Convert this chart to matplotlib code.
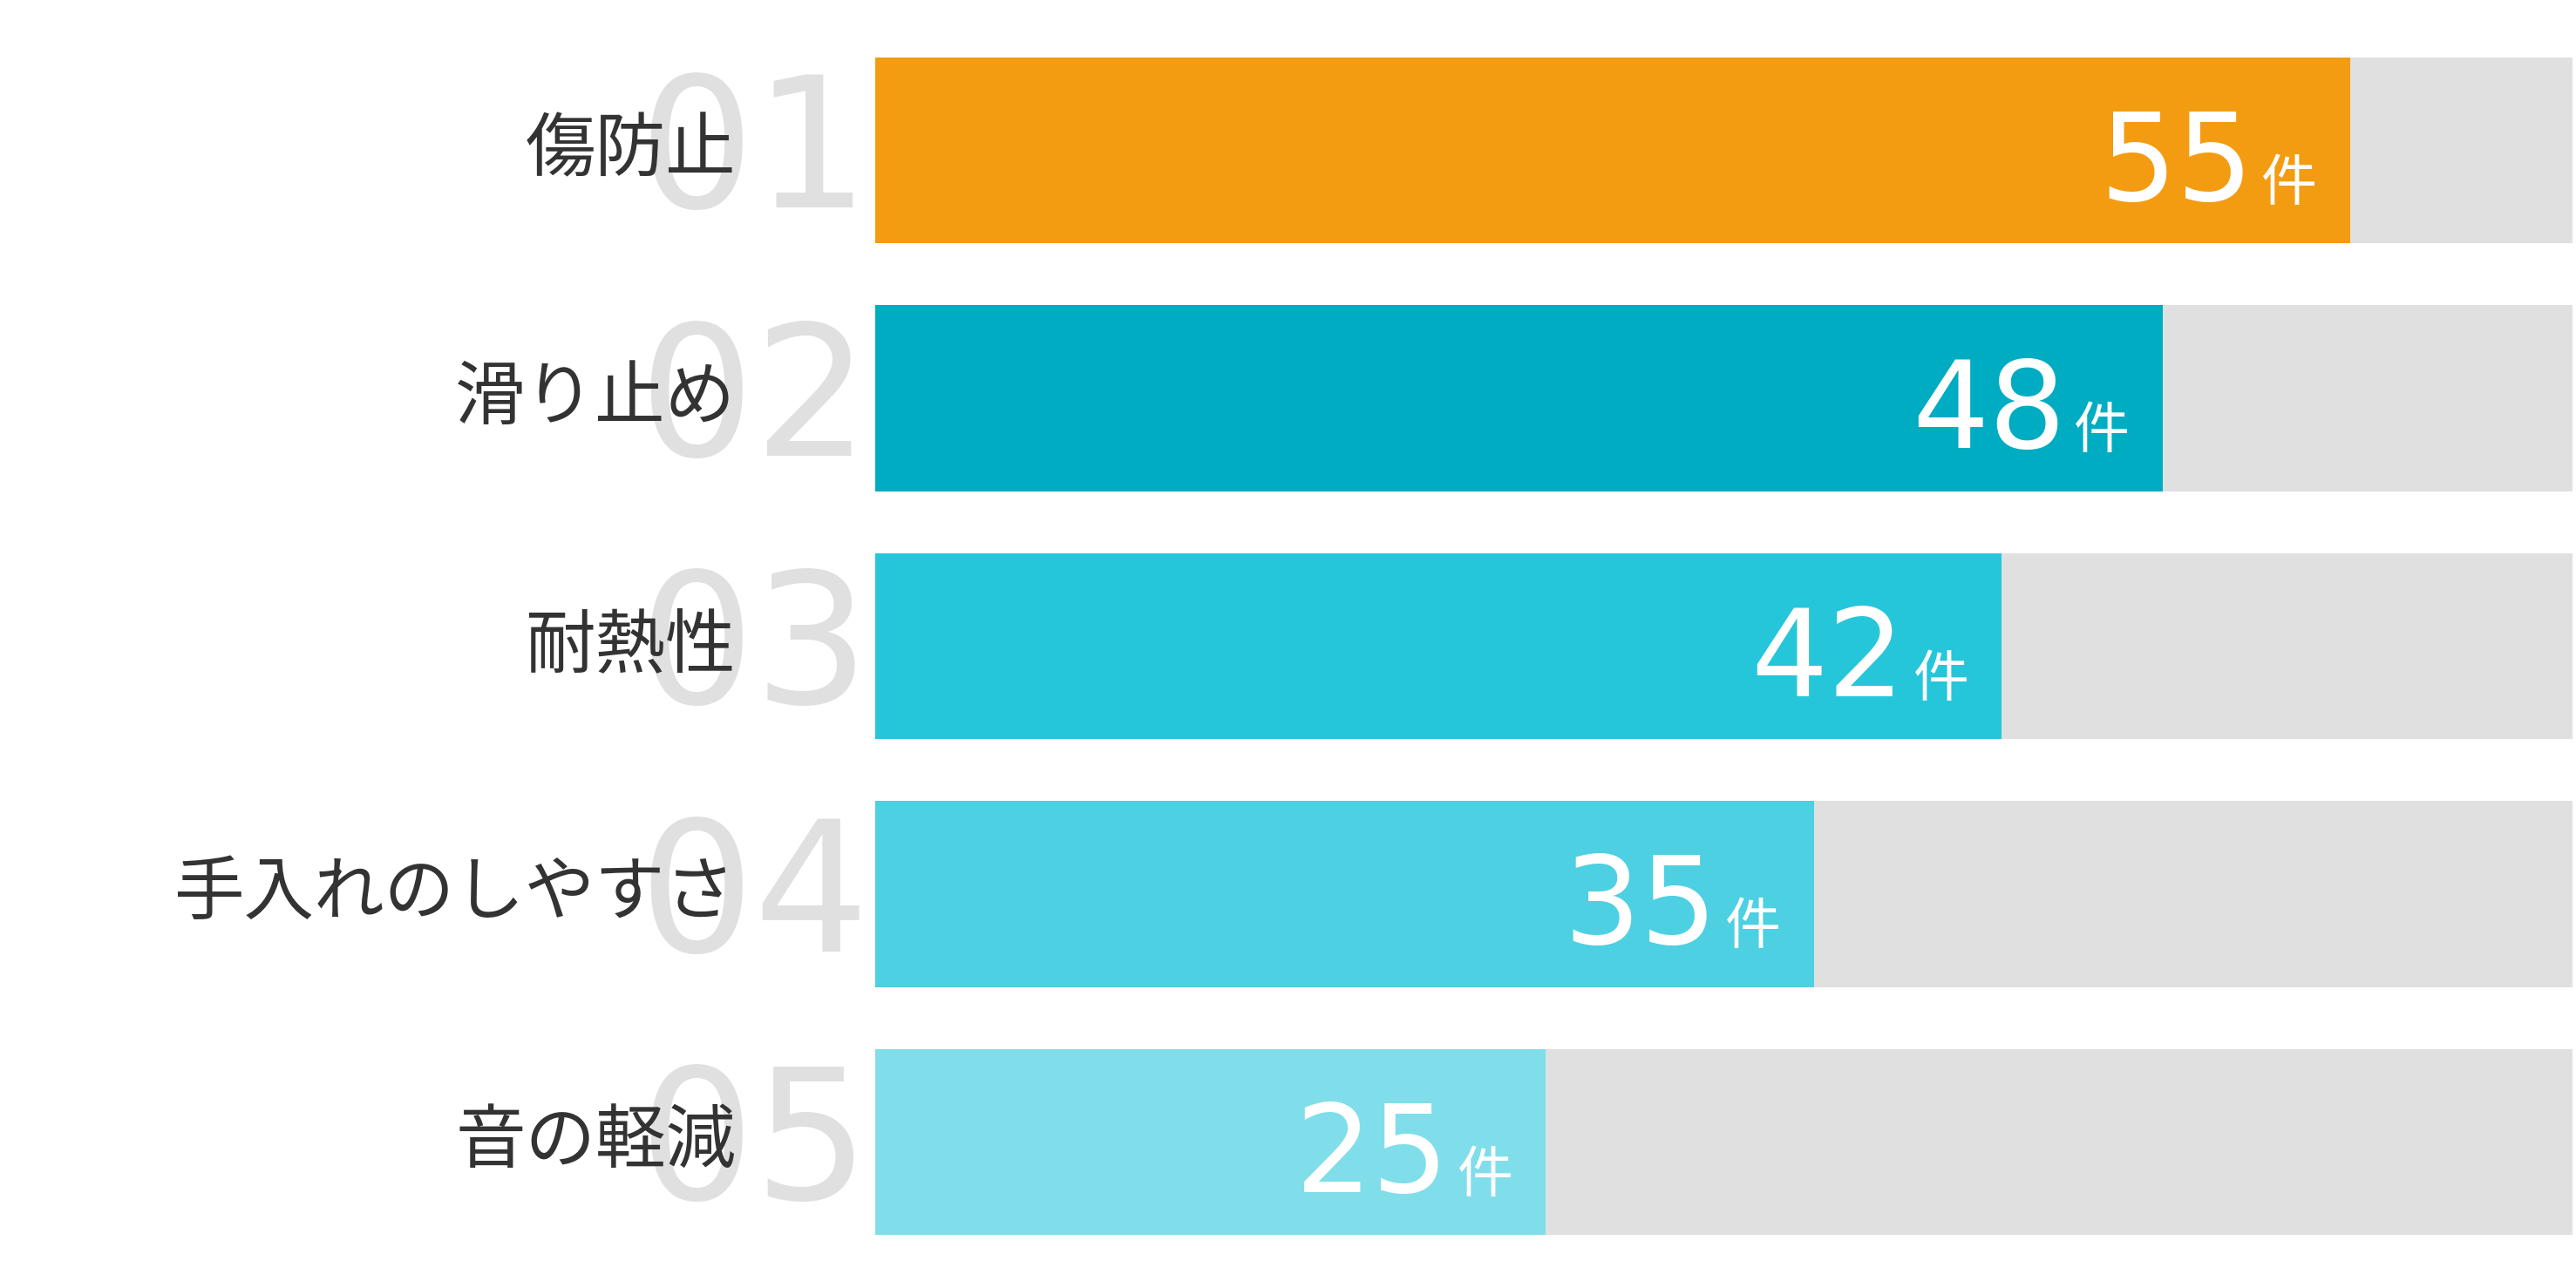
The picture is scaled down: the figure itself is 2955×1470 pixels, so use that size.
import matplotlib.pyplot as plt

plt.rcParams['font.family'] = ['Noto Sans CJK JP', 'DejaVu Sans']

labels = ["傷防止", "滑り止め", "耐熱性", "手入れのしやすさ", "音の軽減"]
ranks = ["01", "02", "03", "04", "05"]
values = [55, 48, 42, 35, 25]
track_max = 63.3
colors = ["#F39C12", "#00ACC1", "#26C6DA", "#4DD0E1", "#80DEEA"]

fig = plt.figure(figsize=(29.55, 14.7), dpi=100)
ax = fig.add_axes([528 / 1554, 9 / 773, 1024 / 1554, 748 / 773])
ax.set_xlim(0, track_max)
ax.set_ylim(4.5, -0.5)
ax.axis("off")

num_font = ["DejaVu Sans"]
for i, (lab, rk, v, c) in enumerate(zip(labels, ranks, values, colors)):
    ax.barh(i, track_max, height=0.75, color="#E0E0E0", zorder=1)
    ax.barh(i, v, height=0.75, color=c, zorder=2)
    ax.text(-0.2, i + 0.23, rk, ha="right", va="baseline", fontsize=150,
            color="#E0E0E0", family=num_font, zorder=0, clip_on=False)
    ax.text(-5.2, i, lab, ha="right", va="center", fontsize=58,
            color="#333333", zorder=3, clip_on=False)
    ax.text(v - 3.6, i + 0.2, str(v), ha="right", va="baseline", fontsize=100,
            color="white", family=num_font, zorder=3)
    ax.text(v - 3.3, i + 0.2, "件", ha="left", va="baseline", fontsize=46,
            color="white", zorder=3)

fig.savefig("out.png", dpi=100, facecolor="white")
